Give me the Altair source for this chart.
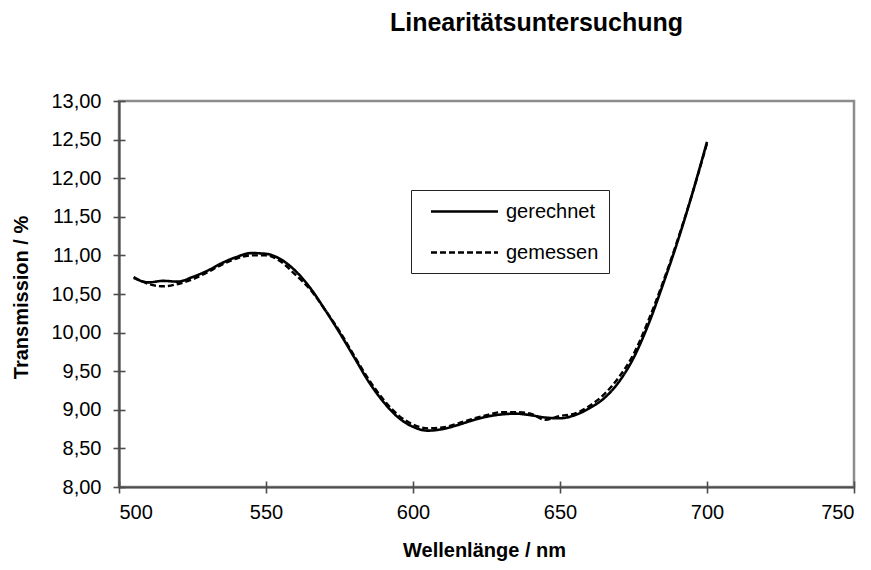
import altair as alt
import pandas as pd

wavelength = [505, 510, 515, 520, 525, 530, 535, 540, 545, 550, 555, 560, 565, 570,
              575, 580, 585, 590, 595, 600, 605, 610, 615, 620, 625, 630, 635, 640,
              645, 650, 655, 660, 665, 670, 675, 680, 685, 690, 695, 700]

gerechnet = [10.71, 10.65, 10.67, 10.66, 10.72, 10.80, 10.90, 10.98, 11.03, 11.02,
             10.95, 10.80, 10.58, 10.30, 10.00, 9.68, 9.36, 9.10, 8.90, 8.78,
             8.73, 8.75, 8.80, 8.86, 8.91, 8.94, 8.95, 8.93, 8.90, 8.89,
             8.93, 9.02, 9.15, 9.36, 9.67, 10.10, 10.62, 11.18, 11.80, 12.47]

gemessen = [10.72, 10.63, 10.60, 10.63, 10.69, 10.78, 10.88, 10.96, 11.00, 11.00,
            10.92, 10.75, 10.56, 10.30, 10.02, 9.70, 9.39, 9.13, 8.93, 8.81,
            8.76, 8.77, 8.82, 8.88, 8.93, 8.97, 8.97, 8.95, 8.87, 8.92,
            8.95, 9.05, 9.20, 9.42, 9.72, 10.15, 10.65, 11.20, 11.80, 12.45]

series_names = ["gerechnet", "gemessen"]
x_ticks = [500, 550, 600, 650, 700, 750]
y_ticks = [8, 8.5, 9, 9.5, 10, 10.5, 11, 11.5, 12, 12.5, 13]

rows = []
for name, vals in zip(series_names, [gerechnet, gemessen]):
    for w, v in zip(wavelength, vals):
        rows.append({"Wellenlänge": w, "Transmission": v, "Serie": name})
df = pd.DataFrame(rows)

FONT = "Liberation Sans"
AXIS_GREY = "#4d4d4d"

x_scale = alt.Scale(domain=[500, 750], nice=False, zero=False)
y_scale = alt.Scale(domain=[8, 13], nice=False, zero=False)

lines = alt.Chart(df).mark_line(interpolate="monotone", color="black").encode(
    x=alt.X("Wellenlänge:Q", scale=x_scale,
            axis=alt.Axis(values=x_ticks, format="d",
                          title="Wellenlänge / nm", grid=False,
                          titleX=365, titleY=63, titleBaseline="middle",
                          titleAlign="center", labelPadding=9)),
    y=alt.Y("Transmission:Q", scale=y_scale,
            axis=alt.Axis(values=y_ticks,
                          labelExpr="replace(format(datum.value, '.2f'), '.', ',')",
                          title="Transmission  / %", grid=False,
                          titleX=-98, titleY=196, titleBaseline="middle",
                          titleAngle=-90, titleAlign="center", labelPadding=12)),
    strokeDash=alt.StrokeDash("Serie:N",
                              scale=alt.Scale(domain=series_names, range=[[1, 0], [6, 3]]),
                              legend=alt.Legend(title=None, orient="none",
                                                legendX=292, legendY=89,
                                                symbolType="M-3.35,0H3.35", symbolSize=400,
                                                symbolStrokeWidth=2.4,
                                                symbolStrokeColor="black",
                                                symbolFillColor="transparent",
                                                symbolOffset=32,
                                                labelFontSize=20, labelFont=FONT,
                                                labelColor="black",
                                                strokeColor="#222222", fillColor="white",
                                                padding=10, rowPadding=19,
                                                labelOffset=30, offset=0)),
    strokeWidth=alt.StrokeWidth("Serie:N",
                                scale=alt.Scale(domain=series_names, range=[2.6, 2.4]),
                                legend=None),
    order=alt.Order("Wellenlänge:Q"),
)

# inner halves of the crossing tick marks
inner = alt.Chart(df).mark_point(opacity=0).encode(
    x=alt.X("Wellenlänge:Q", scale=x_scale,
            axis=alt.Axis(values=x_ticks, orient="bottom", offset=-6, tickSize=6,
                          labels=False, domain=False, title=None, grid=False)),
    y=alt.Y("Transmission:Q", scale=y_scale,
            axis=alt.Axis(values=y_ticks, orient="left", offset=-6, tickSize=6,
                          labels=False, domain=False, title=None, grid=False)),
)

chart = alt.layer(lines, inner).resolve_axis(x="independent", y="independent").properties(
    width=735,
    height=386,
    title=alt.TitleParams("Linearitätsuntersuchung", font=FONT, fontSize=25,
                          fontWeight="bold", color="black", anchor="middle",
                          dx=50, offset=55),
    autosize=alt.AutoSizeParams(type="none"),
    padding={"left": 111, "top": 93, "right": 9, "bottom": 75},
).configure_view(
    stroke="#8c8c8c", strokeWidth=2.5
).configure_axis(
    domainColor=AXIS_GREY, domainWidth=2.2, tickColor=AXIS_GREY, tickWidth=1.6,
    tickSize=6, labelFont=FONT, labelFontSize=20, labelColor="black",
    titleFont=FONT, titleFontSize=20, titleFontWeight="bold", titleColor="black"
)

chart.save("out.html", embed_options={"renderer": "svg", "actions": False})
